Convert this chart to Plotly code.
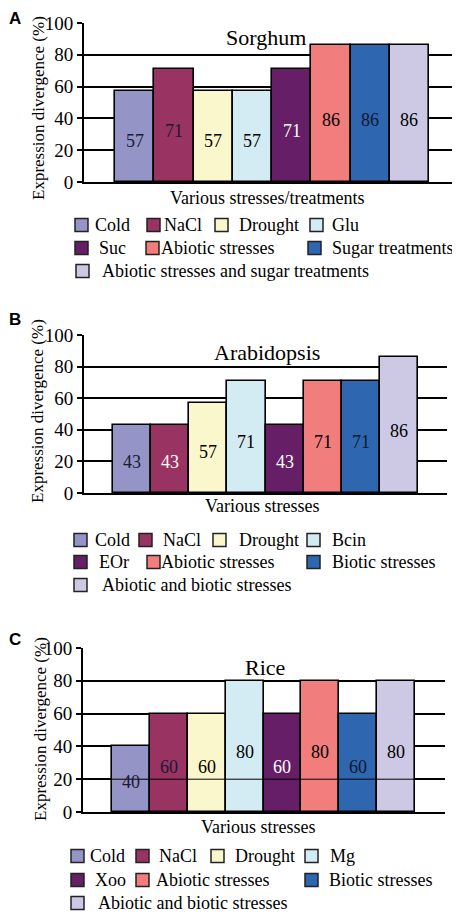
import plotly.graph_objects as go

# The page adds an 8px body margin, so the figure is 8px smaller and all
# reference pixel positions are shifted by that margin.
OFF = 8
W, H = 460 - OFF, 912 - OFF

# ---------------- data ----------------
sorghum_cats = ["Cold", "NaCl", "Drought", "Glu", "Suc", "Abiotic stresses",
                "Sugar treatments", "Abiotic stresses and sugar treatments"]
sorghum_vals = [57, 71, 57, 57, 71, 86, 86, 86]

arabidopsis_cats = ["Cold", "NaCl", "Drought", "Bcin", "EOr", "Abiotic stresses",
                    "Biotic stresses", "Abiotic and biotic stresses"]
arabidopsis_vals = [43, 43, 57, 71, 43, 71, 71, 86]

rice_cats = ["Cold", "NaCl", "Drought", "Mg", "Xoo", "Abiotic stresses",
             "Biotic stresses", "Abiotic and biotic stresses"]
rice_vals = [40, 60, 60, 80, 60, 80, 60, 80]

y_ticks = [0, 20, 40, 60, 80, 100]

# ---------------- styles ----------------
bar_colors = ["#9594C7", "#993361", "#FBF7CC", "#D3ECF3", "#661F66",
              "#F27D7D", "#2E66AF", "#CDC9E5"]
DARK = "#1a1a33"
label_colors = {
    "A": [DARK, DARK, "black", "black", "white", "black", "#0d1733", "black"],
    "B": [DARK, "white", "black", "black", "white", "black", "#0d1733", "black"],
    "C": [DARK, DARK, "black", "black", "white", "black", "#0d1733", "black"],
}
SERIF = "Liberation Serif"

def px(x):
    return (x - OFF) / W

def py(y):
    return 1 - (y - OFF) / H

panels = [
    dict(key="A", cats=sorghum_cats, vals=sorghum_vals, title="Sorghum",
         xtitle="Various stresses/treatments", sfx="", xd=(84, 459), yd=(182, 23),
         xr=(-1.29, 8.264), title_xy=(266, 38), xt_xy=(267, 198), yt_xy=(38, 108),
         letter_xy=(15, 19),
         legend_rows=[225, 248, 271],
         legend_pos=[(0, 75, 93), (0, 147, 162), (0, 215, 237), (0, 310, 330),
                     (1, 75, 97), (1, 146, 159), (1, 308, 330), (2, 76, 100)]),
    dict(key="B", cats=arabidopsis_cats, vals=arabidopsis_vals, title="Arabidopsis",
         xtitle="Various stresses", sfx="2", xd=(84, 447), yd=(493, 335),
         xr=(-1.261, 8.261), title_xy=(267, 353), xt_xy=(262, 506), yt_xy=(37, 411),
         letter_xy=(15, 319),
         legend_rows=[540, 562, 585],
         legend_pos=[(0, 74, 93), (0, 139, 161), (0, 213, 237), (0, 307, 330),
                     (1, 74, 97), (1, 147, 159), (1, 307, 330), (2, 74, 100)]),
    dict(key="C", cats=rice_cats, vals=rice_vals, title="Rice",
         xtitle="Various stresses", sfx="3", xd=(83, 445), yd=(812, 648),
         xr=(-1.266, 8.292), title_xy=(265, 667), xt_xy=(258, 827), yt_xy=(40, 729),
         letter_xy=(15, 639),
         legend_rows=[856, 880, 903],
         legend_pos=[(0, 71, 88), (0, 136, 157), (0, 211, 233), (0, 305, 328),
                     (1, 71, 93), (1, 136, 154), (1, 305, 327), (2, 71, 96)]),
]

fig = go.Figure()
annotations = []
shapes = []

def paper_text(x, y, text, size, family=SERIF, angle=0, xanchor="center"):
    return dict(x=px(x), y=py(y), xref="paper", yref="paper", text=text,
                showarrow=False, xanchor=xanchor, yanchor="middle", textangle=angle,
                font=dict(family=family, size=size, color="black"))

for p in panels:
    xa = "x" + p["sfx"]
    ya = "y" + p["sfx"]
    fig.add_trace(go.Bar(
        x=p["cats"], y=p["vals"], xaxis=xa, yaxis=ya,
        marker=dict(color=bar_colors, line=dict(color="black", width=1.6)),
        showlegend=False, hoverinfo="x+y",
    ))
    xkey = "xaxis" + p["sfx"]
    ykey = "yaxis" + p["sfx"]
    fig.update_layout(**{
        xkey: dict(domain=[px(p["xd"][0]), min(1, px(p["xd"][1]))], anchor=ya,
                   range=list(p["xr"]), showticklabels=False, ticks="",
                   showgrid=False, showline=True, linecolor="black", linewidth=2,
                   zeroline=False, fixedrange=True, automargin=False),
        ykey: dict(domain=[py(p["yd"][0]), py(p["yd"][1])], anchor=xa,
                   range=[0, 100], tickvals=y_ticks, ticktext=[str(t) for t in y_ticks],
                   showgrid=True, gridcolor="black", gridwidth=2,
                   ticks="outside", ticklen=5, tickwidth=2, tickcolor="black",
                   showline=True, linecolor="black", linewidth=2, zeroline=False,
                   tickfont=dict(family=SERIF, size=19, color="black"),
                   fixedrange=True, automargin=False),
    })
    # bar value labels
    for c, v, col in zip(p["cats"], p["vals"], label_colors[p["key"]]):
        annotations.append(dict(x=c, y=v * 0.455, xref=xa, yref=ya, text=str(v),
                                showarrow=False, xanchor="center", yanchor="middle",
                                font=dict(family=SERIF, size=18, color=col)))
    annotations.append(paper_text(*p["title_xy"], p["title"], 22))
    annotations.append(paper_text(*p["xt_xy"], p["xtitle"], 18))
    annotations.append(paper_text(*p["yt_xy"], "Expression divergence (%)", 17, angle=-90))
    annotations.append(paper_text(*p["letter_xy"], "<b>" + p["key"] + "</b>", 17,
                                  family="Liberation Sans"))
    # manual legend
    for (row, bx, tx), c, col in zip(p["legend_pos"], p["cats"], bar_colors):
        yc = p["legend_rows"][row]
        shapes.append(dict(type="rect", xref="paper", yref="paper",
                           x0=px(bx), x1=px(bx + 13), y0=py(yc + 6.5), y1=py(yc - 6.5),
                           fillcolor=col, line=dict(color="#222", width=1.5)))
        annotations.append(paper_text(tx, yc, c, 18, xanchor="left"))

# thin gridline drawn over the rice bars at 20
shapes.append(dict(type="line", xref="x3 domain", yref="y3", x0=0, x1=1, y0=20, y1=20,
                   line=dict(color="black", width=1), layer="above"))

fig.update_layout(
    width=W, height=H, margin=dict(l=0, r=0, t=0, b=0, pad=0),
    paper_bgcolor="white", plot_bgcolor="white",
    bargap=0, annotations=annotations, shapes=shapes, showlegend=False,
    font=dict(family=SERIF, color="black"),
)

fig.write_html("out.html")
